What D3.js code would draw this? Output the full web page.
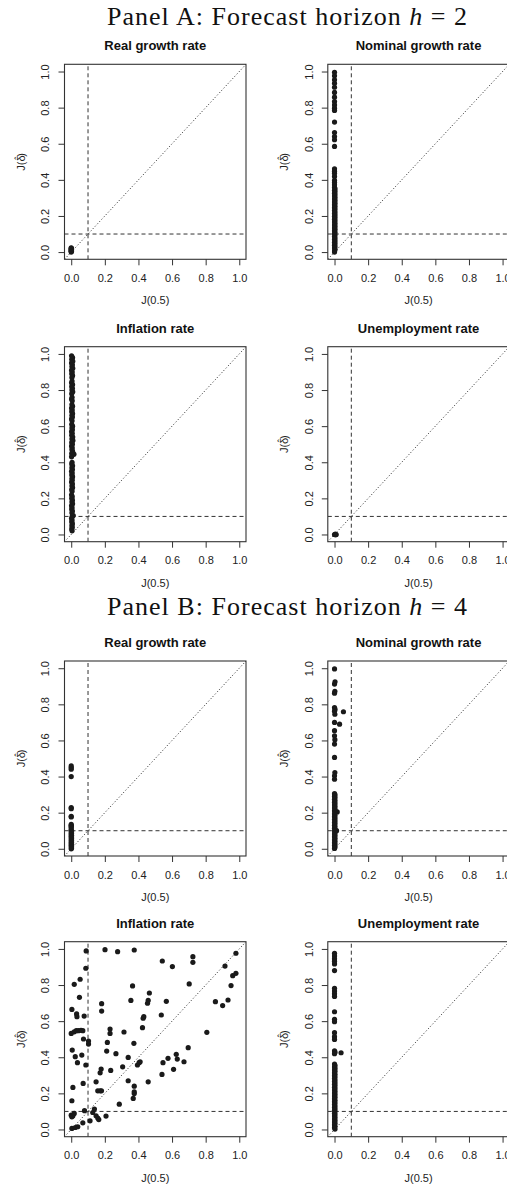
<!DOCTYPE html>
<html><head><meta charset="utf-8">
<script src="https://cdn.jsdelivr.net/npm/d3@7"></script>
<style>body{margin:0;background:#fff}svg{display:block}</style>
</head><body><svg id="c" width="507" height="1188"></svg>
<script>
// ---------- data ----------
const panelTitles = ["Panel A: Forecast horizon ", "Panel B: Forecast horizon "];
const horizons = ["2", "4"];
const variables = ["Real growth rate", "Nominal growth rate", "Inflation rate", "Unemployment rate"];
const tickValues = [0, 0.2, 0.4, 0.6, 0.8, 1.0];
const tickLabels = ["0.0", "0.2", "0.4", "0.6", "0.8", "1.0"];
const threshold = 0.1;
const xLabel = "J(0.5)";

// h = 2
const h2Real = [[0,0.0],[0,0.004],[0,0.008],[0,0.012],[0,0.016],[0,0.02],[0,0.024],[0.002,0.006],[0.002,0.018]];
const h2Nominal = [[0,0.996],[0,0.976],[0,0.954],[0,0.935],[0,0.913],[0,0.884],[0,0.858],[0,0.834],[0,0.815],[0,0.797],[0,0.784],
  [0,0.72],[0,0.662],[0,0.64],[0,0.622],[0,0.585],[0,0.461],[0,0.448],[0,0.437],[0,0.419],[0,0.397],[0,0.385],[0,0.373],
  [0,0.358],[0.003,0.35],[0,0.342],[0.003,0.334],[0,0.326],[0.003,0.318],[0,0.31],[0.003,0.302],[0,0.294],[0.003,0.286],[0,0.278],
  [0.003,0.27],[0,0.262],[0.003,0.254],[0,0.246],[0.003,0.238],[0,0.23],[0.003,0.222],[0,0.214],[0.003,0.206],[0,0.198],[0.003,0.19],
  [0,0.182],[0.003,0.174],[0,0.166],[0.003,0.158],[0,0.15],[0.003,0.142],[0,0.134],[0.003,0.126],[0,0.118],[0.003,0.11],[0,0.102],
  [0.003,0.094],[0,0.086],[0.003,0.078],[0,0.07],[0.003,0.062],[0,0.054],[0.003,0.046],[0,0.038],[0.003,0.03],[0,0.022],[0.003,0.014],[0,0.006],[0,0.0]];
const h2Inflation = [[0.002,0.99],[0.008,0.98],[0.003,0.97],[0.009,0.96],[0.002,0.95],[0.007,0.94],[0.004,0.93],[0.009,0.92],[0.002,0.91],
  [0.006,0.90],[0.003,0.89],[0.008,0.88],[0.004,0.87],[0.005,0.85],[0.002,0.84],[0.008,0.83],[0.003,0.82],[0.007,0.81],[0.004,0.80],
  [0.009,0.79],[0.003,0.78],[0.005,0.76],[0.002,0.75],[0.006,0.74],[0.004,0.72],[0.008,0.71],[0.002,0.70],[0.006,0.69],[0.003,0.68],
  [0.008,0.67],[0.004,0.66],[0.007,0.65],[0.002,0.64],[0.005,0.63],[0.003,0.61],[0.008,0.60],[0.004,0.59],[0.007,0.58],[0.002,0.57],
  [0.006,0.56],[0.003,0.55],[0.009,0.54],[0.004,0.53],[0.01,0.52],[0.003,0.51],[0.007,0.50],[0.002,0.49],[0.006,0.48],[0.004,0.47],
  [0.008,0.46],[0.003,0.45],[0.016,0.445],[0.006,0.44],[0.002,0.43],[0.005,0.40],[0.003,0.39],[0.008,0.38],[0.004,0.37],[0.007,0.36],
  [0.002,0.35],[0.006,0.34],[0.003,0.33],[0.008,0.32],[0.004,0.31],[0.006,0.30],[0.002,0.29],[0.007,0.28],[0.004,0.27],[0.008,0.26],
  [0.003,0.25],[0.005,0.24],[0.002,0.22],[0.006,0.21],[0.003,0.20],[0.007,0.19],[0.004,0.18],[0.008,0.17],[0.002,0.16],[0.005,0.15],
  [0.003,0.14],[0.007,0.13],[0.004,0.12],[0.012,0.105],[0.006,0.10],[0.002,0.09],[0.005,0.08],[0.003,0.07],[0.007,0.06],[0.004,0.05],
  [0.006,0.04],[0.003,0.03],[0.005,0.02]];
const h2Unemployment = [[0,0.0],[0.005,0.002],[0.01,0.0],[0.006,-0.002]];

// h = 4
const h4Real = [[0,0.459],[0,0.45],[0,0.441],[0,0.40],[0,0.228],[0,0.222],[0,0.18],[0,0.176],[0,0.135],[0,0.13],[0,0.124],[0,0.118],[0,0.107],
  [0,0.10],[0.002,0.095],[0,0.09],[0.002,0.085],[0,0.08],[0.002,0.075],[0,0.07],[0.002,0.065],[0,0.06],[0.002,0.055],[0,0.05],
  [0.002,0.045],[0,0.04],[0.002,0.035],[0,0.03],[0.002,0.025],[0,0.02],[0.002,0.015],[0,0.01],[0.002,0.005],[0,0.0]];
const h4Nominal = [[0,0.996],[0.003,0.925],[0,0.912],[0.002,0.872],[0,0.862],[0,0.782],[0.003,0.772],[0,0.762],[0.002,0.745],[0,0.70],
  [0.053,0.759],[0.03,0.69],[0,0.654],[0,0.626],[0.002,0.604],[0,0.58],[0,0.506],[0.002,0.422],[0,0.404],[0,0.385],
  [0,0.305],[0.003,0.298],[0,0.29],[0.003,0.282],[0,0.274],[0.003,0.266],[0,0.258],[0.003,0.25],[0,0.242],[0.003,0.234],[0,0.226],
  [0.003,0.218],[0,0.21],[0.016,0.204],[0.003,0.202],[0,0.194],[0.003,0.186],[0,0.178],[0.003,0.17],[0,0.162],[0.003,0.154],[0,0.146],
  [0.003,0.138],[0,0.13],[0.003,0.122],[0,0.114],[0.003,0.106],[0.012,0.1],[0,0.098],[0.003,0.09],[0,0.082],[0.003,0.074],[0,0.066],
  [0.003,0.058],[0,0.05],[0.003,0.042],[0,0.034],[0.003,0.026],[0,0.018],[0.003,0.01],[0,0.002]];
const h4Inflation = [[0.089,0.989],[0.201,0.996],[0.276,0.985],[0.375,0.994],[0.087,0.893],[0.018,0.804],[0.053,0.832],[0.049,0.732],
  [0.004,0.665],[0.032,0.640],[0.034,0.625],[0.077,0.628],[0.0,0.532],[0.018,0.541],[0.030,0.547],[0.043,0.547],[0.058,0.549],[0.069,0.547],
  [0.006,0.440],[0.024,0.403],[0.037,0.370],[0.063,0.412],[0.073,0.501],[0.103,0.490],[0.103,0.473],[0.087,0.357],[0.071,0.255],
  [0.010,0.233],[0.004,0.159],[0.0,0.079],[0.010,0.076],[0.018,0.089],[0.004,0.070],[0.079,0.104],[0.004,0.006],[0.024,0.011],
  [0.039,0.015],[0.069,0.037],[0.112,0.048],[0.128,0.094],[0.138,0.113],[0.148,0.076],[0.158,0.063],[0.164,0.055],[0.148,0.264],
  [0.158,0.214],[0.172,0.214],[0.180,0.214],[0.172,0.314],[0.178,0.335],[0.181,0.656],[0.181,0.697],[0.211,0.434],[0.215,0.482],
  [0.231,0.556],[0.231,0.532],[0.235,0.327],[0.207,0.074],[0.266,0.420],[0.286,0.140],[0.314,0.540],[0.306,0.347],[0.339,0.399],
  [0.339,0.270],[0.355,0.715],[0.365,0.795],[0.373,0.477],[0.375,0.240],[0.375,0.209],[0.375,0.199],[0.369,0.172],[0.394,0.357],
  [0.404,0.370],[0.410,0.375],[0.424,0.564],[0.428,0.616],[0.432,0.625],[0.454,0.699],[0.458,0.715],[0.465,0.756],[0.458,0.264],
  [0.542,0.933],[0.546,0.370],[0.536,0.634],[0.540,0.305],[0.566,0.710],[0.576,0.394],[0.602,0.902],[0.609,0.333],[0.625,0.416],
  [0.631,0.390],[0.671,0.375],[0.696,0.453],[0.702,0.806],[0.724,0.957],[0.724,0.926],[0.807,0.538],[0.858,0.708],[0.901,0.686],
  [0.915,0.905],[0.933,0.717],[0.951,0.797],[0.961,0.852],[0.980,0.865],[0.980,0.976]];
const h4Unemployment = [[0,0.976],[0,0.961],[0,0.946],[0,0.932],[0,0.917],[0,0.880],[0,0.782],[0,0.767],[0,0.752],[0,0.737],[0,0.652],
  [0,0.61],[0,0.597],[0,0.536],[0,0.514],[0,0.499],[0,0.436],[0.003,0.428],[0,0.42],[0.039,0.425],
  [0,0.362],[0.003,0.354],[0,0.346],[0.003,0.338],[0,0.33],[0.003,0.322],[0,0.314],[0.003,0.306],[0,0.298],[0.003,0.29],[0,0.282],
  [0.003,0.274],[0,0.266],[0.003,0.258],[0,0.25],[0.003,0.242],[0,0.234],[0.003,0.226],[0,0.218],[0.003,0.21],[0,0.202],[0.003,0.194],
  [0,0.186],[0.003,0.178],[0,0.17],[0.003,0.162],[0,0.154],[0.003,0.146],[0,0.138],[0.003,0.13],[0,0.122],[0.003,0.114],[0,0.106],
  [0.003,0.098],[0,0.09],[0.003,0.082],[0,0.074],[0.003,0.066],[0,0.058],[0.003,0.05],[0,0.042],[0.003,0.034],[0,0.026],[0.003,0.018],
  [0,0.01],[0.003,0.002]];

const panelData = [
  [h2Real, h2Nominal, h2Inflation, h2Unemployment],
  [h4Real, h4Nominal, h4Inflation, h4Unemployment]
];

// ---------- layout ----------
const svg = d3.select("#c");
const colLeft = [64.5, 327.8];
const rowTop = [64.3, 346.7, 661, 941.7];
const boxW = 181.5, boxH = 195;
const titleBase = [25, 615];
const sans = "'Liberation Sans', Arial, Helvetica, sans-serif";
const ink = "#222";

// main titles
panelTitles.forEach((t, i) => {
  const tx = svg.append("text")
    .attr("x", 107).attr("y", titleBase[i])
    .attr("font-family", "'Liberation Serif', 'Times New Roman', serif")
    .attr("font-size", 26).attr("fill", "#111")
    .attr("textLength", 360).attr("lengthAdjust", "spacing");
  tx.append("tspan").text(t);
  tx.append("tspan").attr("font-style", "italic").text("h");
  tx.append("tspan").text(" = " + horizons[i]);
});

panelData.forEach((group, p) => {
  group.forEach((pts, k) => {
    const row = p * 2 + Math.floor(k / 2), col = k % 2;
    const left = colLeft[col], top = rowTop[row];
    const x = d3.scaleLinear().domain([-0.04, 1.04]).range([left, left + boxW]);
    const y = d3.scaleLinear().domain([-0.04, 1.04]).range([top + boxH, top]);
    const g = svg.append("g");
    const clipId = "clip" + row + "_" + col;
    svg.append("clipPath").attr("id", clipId).append("rect")
      .attr("x", left).attr("y", top).attr("width", boxW).attr("height", boxH);
    const inner = g.append("g").attr("clip-path", `url(#${clipId})`);

    // reference lines
    inner.append("line").attr("x1", x(-0.04)).attr("y1", y(-0.04)).attr("x2", x(1.04)).attr("y2", y(1.04))
      .attr("stroke", "#222").attr("stroke-width", 1).attr("stroke-dasharray", "1,2.2");
    inner.append("line").attr("x1", x(threshold)).attr("x2", x(threshold)).attr("y1", y(-0.04)).attr("y2", y(1.04))
      .attr("stroke", "#333").attr("stroke-width", 1).attr("stroke-dasharray", "4,3");
    inner.append("line").attr("y1", y(threshold)).attr("y2", y(threshold)).attr("x1", x(-0.04)).attr("x2", x(1.04))
      .attr("stroke", "#333").attr("stroke-width", 1).attr("stroke-dasharray", "4,3");

    // points
    inner.selectAll("circle").data(pts).join("circle")
      .attr("cx", d => x(d[0])).attr("cy", d => y(d[1])).attr("r", 2.6).attr("fill", "#1a1a1a");

    // box
    g.append("rect").attr("x", left).attr("y", top).attr("width", boxW).attr("height", boxH)
      .attr("fill", "none").attr("stroke", "#333").attr("stroke-width", 1.1);

    // x axis
    const ax = g.append("g").attr("transform", `translate(0,${top + boxH})`)
      .call(d3.axisBottom(x).tickValues(tickValues).tickFormat((d, i) => tickLabels[i]).tickSize(6).tickSizeOuter(0).tickPadding(9));
    ax.select(".domain").remove();
    ax.selectAll("line").attr("stroke", "#333");
    ax.selectAll("text").attr("font-family", sans).attr("font-size", 11).attr("fill", ink);

    // y axis
    const ay = g.append("g").attr("transform", `translate(${left},0)`)
      .call(d3.axisLeft(y).tickValues(tickValues).tickFormat((d, i) => tickLabels[i]).tickSize(6).tickSizeOuter(0));
    ay.select(".domain").remove();
    ay.selectAll("line").attr("stroke", "#333");
    ay.selectAll("text").attr("font-family", sans).attr("font-size", 11).attr("fill", ink)
      .attr("transform", "rotate(-90)").attr("x", 0).attr("y", -15.3).attr("dy", null)
      .attr("text-anchor", "middle");

    // titles
    g.append("text").attr("x", left + boxW / 2).attr("y", top - 14)
      .attr("text-anchor", "middle").attr("font-family", sans).attr("font-weight", "bold")
      .attr("font-size", 13).attr("fill", "#111").text(variables[k]);
    g.append("text").attr("x", x(0.5)).attr("y", top + boxH + 45)
      .attr("text-anchor", "middle").attr("font-family", sans).attr("font-size", 11).attr("fill", ink).text(xLabel);
    // y label J(δ̂) with a hat placed over delta
    const yl = g.append("text").attr("transform", `translate(${left - 40},${top + boxH / 2}) rotate(-90)`)
      .attr("text-anchor", "middle").attr("font-family", sans).attr("font-size", 11).attr("fill", ink);
    yl.append("tspan").text("J(\u03B4");
    yl.append("tspan").attr("dx", "-0.5em").attr("dy", "-0.42em").attr("font-size", 9).text("\u02C6");
    yl.append("tspan").attr("dx", "0.02em").attr("dy", "0.38em").text(")");
  });
});
</script></body></html>
